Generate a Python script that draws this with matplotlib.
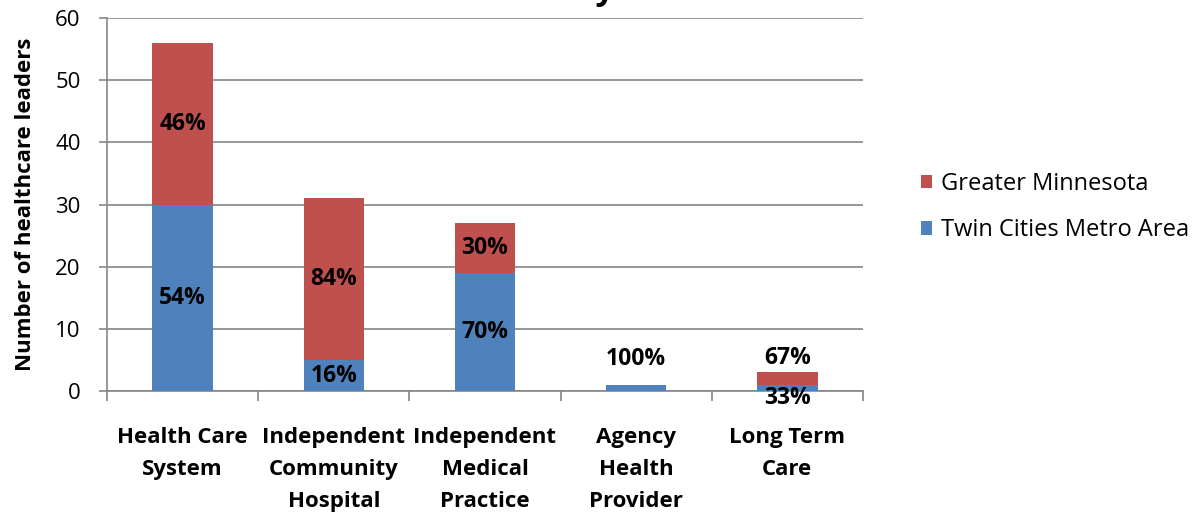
import matplotlib
matplotlib.use("Agg")
import matplotlib.pyplot as plt
import numpy as np

categories = ["Health Care\nSystem", "Independent\nCommunity\nHospital", "Independent\nMedical\nPractice",
              "Agency\nHealth\nProvider", "Long Term\nCare"]
twin_cities = [30, 5, 19, 1, 1]
greater_mn = [26, 26, 8, 0, 2]
series_names = ["Twin Cities Metro Area", "Greater Minnesota"]
yticks = [0, 10, 20, 30, 40, 50, 60]

plt.rcParams['font.family'] = ['Open Sans', 'DejaVu Sans']
blue = "#4F81BD"
red = "#C0504D"
grid = "#868686"

W, H = 1198, 514
fig = plt.figure(figsize=(W / 100, H / 100), dpi=100)
ax = fig.add_axes([0.0893, 0.239, 0.631, 0.726])

x = np.arange(len(categories))
w = 0.4
b1 = ax.bar(x, twin_cities, w, color=blue, label=series_names[0], zorder=3)
b2 = ax.bar(x, greater_mn, w, bottom=twin_cities, color=red, label=series_names[1], zorder=3)

ax.set_ylim(0, 60)
ax.set_xlim(-0.5, len(categories) - 0.5)
ax.set_yticks(yticks)
ax.set_yticklabels([str(t) for t in yticks], fontsize=16)
ax.yaxis.grid(True, color=grid, linewidth=1.2, zorder=0)
ax.set_axisbelow(True)
for s in ["top", "right"]:
    ax.spines[s].set_visible(False)
for s in ["left", "bottom"]:
    ax.spines[s].set_color(grid)
    ax.spines[s].set_linewidth(1.2)
ax.tick_params(axis='y', color=grid, length=6, width=1.2, pad=13)

ax.set_xticks(x)
ax.set_xticklabels(categories, fontsize=16, fontweight='bold', linespacing=1.68)
ax.tick_params(axis='x', length=0, pad=26)
ax.set_xticks(np.arange(len(categories) + 1) - 0.5, minor=True)
ax.tick_params(axis='x', which='minor', color=grid, length=7, width=1.2)

ax.set_ylabel("Number of healthcare leaders", fontsize=16, fontweight='bold', labelpad=14)

lab = dict(ha='center', va='center', fontsize=16.5, fontweight='bold')
for i in range(len(categories)):
    tot = twin_cities[i] + greater_mn[i]
    pb = round(100 * twin_cities[i] / tot)
    pr = round(100 * greater_mn[i] / tot)
    if greater_mn[i] == 0:
        ax.text(x[i], twin_cities[i] + 4.1, f"{pb}%", **lab)
    elif tot < 5:
        ax.text(x[i], tot + 2.3, f"{pr}%", **lab)
        ax.text(x[i], -1.1, f"{pb}%", clip_on=False, **lab)
    else:
        ax.text(x[i], twin_cities[i] / 2, f"{pb}%", **lab)
        ax.text(x[i], twin_cities[i] + greater_mn[i] / 2, f"{pr}%", **lab)

handles = [b2, b1]
fig.legend(handles, [series_names[1], series_names[0]], loc='center left', bbox_to_anchor=(0.751, 0.597),
           frameon=False, fontsize=17, handlelength=0.48, handleheight=0.48, labelspacing=0.95, handletextpad=0.38)

# title, mostly outside the top edge (as in the reference)
title = "Healthcare Leaders by Sector"
prefix = "Healthcare Leaders b"
renderer = fig.canvas.get_renderer()
tmp = fig.text(0, 0, prefix, fontsize=24, fontweight='bold')
pw = tmp.get_window_extent(renderer).width
tmp.remove()
fig.text((596 - pw) / W, 1 + 1.0 / H, title, ha='left', va='baseline', fontsize=24, fontweight='bold')

fig.savefig("out.png", dpi=100)
